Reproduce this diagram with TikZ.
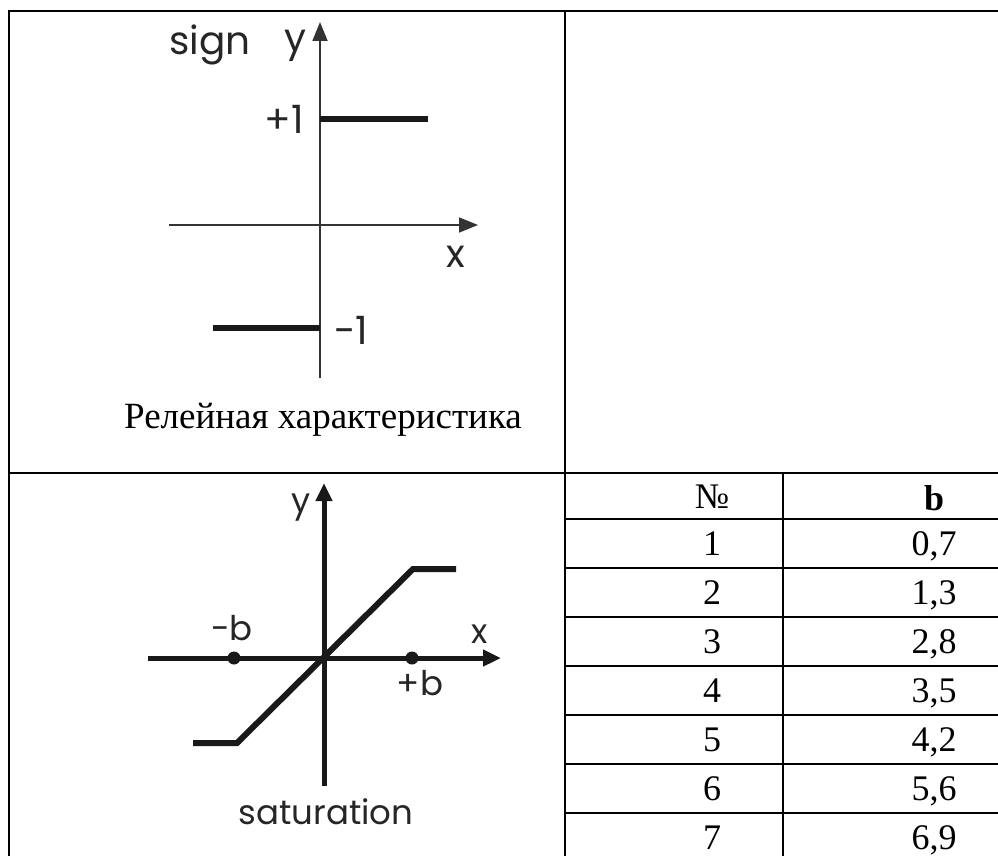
\documentclass[tikz,border=0pt]{standalone}
\usepackage{fontspec}
\setmainfont{Liberation Serif}
\newfontfamily\geo{Poppins}
\usetikzlibrary{arrows.meta}

\begin{document}
\begin{tikzpicture}[x=1pt, y=-1pt,
  rule/.style ={line width=2.6pt, black},
  thinax/.style={line width=1.8pt, black!80, -{Triangle[length=19pt,width=15pt]}},
  thickax/.style={line width=5pt, black!90, -{Triangle[length=18pt,width=16pt]}},
  curve/.style={line width=6pt, black!90},
  lbl/.style ={font=\geo\fontsize{39}{42}\selectfont, black!85, inner sep=0pt},
  slbl/.style={font=\geo\fontsize{34}{38}\selectfont, black!85, inner sep=0pt},
  cell/.style={font=\fontsize{36}{40}\selectfont, inner sep=0pt, anchor=base}
]
\useasboundingbox (0,0) rectangle (998,856);

% =============== frame ===============
\draw[rule] (9,856) -- (9,11) -- (998,11);
\draw[rule] (565,11) -- (565,856);
\draw[rule] (9,473) -- (998,473);

% =============== relay (sign) ===============
\draw[thinax] (169,225) -- (478,225);
\draw[thinax] (320,378) -- (320,22);
\draw[curve] (320,119) -- (428,119);
\draw[curve] (213,328) -- (320,328);
\node[lbl, anchor=base west] (sgn) at (169,55) {sign};
\node[lbl, anchor=base west] (sy)  at (284,52) {y};
\node[lbl, anchor=base east] (sp1) at (304,134) {+1};
\node[lbl, anchor=base west] (sm1) at (334,344) {-1};
\node[lbl, anchor=base] (sx) at (456,267) {x};
\node[font=\fontsize{37}{40}\selectfont, inner sep=0pt, anchor=base] (cap) at (323,428)
  {Релейная характеристика};

% =============== saturation ===============
\draw[thickax] (148,658) -- (501,658);
\draw[thickax] (324,786) -- (324,483);
\draw[curve, line join=miter] (193,743) -- (237,743) -- (413,569) -- (456,569);
\fill[black!90] (234,658) circle (6.5pt) (412,658) circle (6.5pt);
\node[slbl, anchor=base west] (ty) at (291,512) {y};
\node[slbl, anchor=base] (tmb) at (232,640) {-b};
\node[slbl, anchor=base] (tx)  at (480,643) {x};
\node[slbl, anchor=base] (tpb) at (420,695) {+b};
\node[slbl, anchor=base] (sat) at (326,824) {saturation};

% =============== table of b ===============
\foreach \r in {519,568,617,666,715,764,813}
  \draw[rule] (565,\r) -- (998,\r);
\draw[rule] (783,473) -- (783,856);
\node[cell] (hn) at (712,508) {№};
\node[cell] (hb) at (934,510) {\textbf{b}};
\foreach \b [count=\n] in {{0,7},{1,3},{2,8},{3,5},{4,2},{5,6},{6,9}} {
  \node[cell] (n\n) at (712,{519+49*(\n-1)+36}) {\n};
  \node[cell] (b\n) at (934,{519+49*(\n-1)+36}) {\b};
}
\end{tikzpicture}
\end{document}
